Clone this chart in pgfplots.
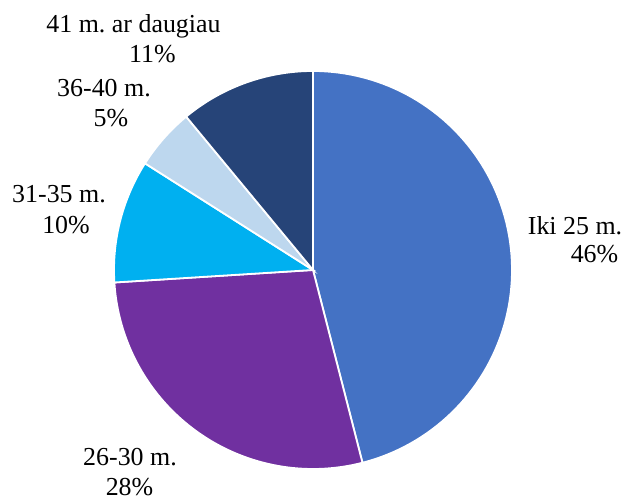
\documentclass[border=0pt]{standalone}
\usepackage{pgfplots}
\pgfplotsset{compat=1.18}
\usepgfplotslibrary{polar}
\usepackage{fontspec}
\setmainfont{Liberation Serif}
\frenchspacing
\definecolor{cA}{HTML}{4472C4}
\definecolor{cB}{HTML}{7030A0}
\definecolor{cC}{HTML}{00B0F0}
\definecolor{cD}{HTML}{BDD7EE}
\definecolor{cE}{HTML}{264478}
\begin{document}
\begin{tikzpicture}[x=1bp,y=1bp]
\useasboundingbox (0,0) rectangle (622,497);
\begin{polaraxis}[
  at={(313bp,227bp)}, anchor=center,
  scale only axis, width=398bp, height=398bp,
  hide axis, ymin=0, ymax=1, clip=false,
  samples=90]
% shares: 46, 28, 10, 5, 11 % -> clockwise from 90 deg
\addplot[fill=cA, draw=white, line width=1.8bp, domain=-75.6:90] {1} -- (axis cs:0,0) -- cycle;
\addplot[fill=cB, draw=white, line width=1.8bp, domain=-176.4:-75.6] {1} -- (axis cs:0,0) -- cycle;
\addplot[fill=cC, draw=white, line width=1.8bp, domain=-212.4:-176.4] {1} -- (axis cs:0,0) -- cycle;
\addplot[fill=cD, draw=white, line width=1.8bp, domain=-230.4:-212.4] {1} -- (axis cs:0,0) -- cycle;
\addplot[fill=cE, draw=white, line width=1.8bp, domain=-270:-230.4] {1} -- (axis cs:0,0) -- cycle;
\end{polaraxis}
\begin{scope}[every node/.style={anchor=base, inner sep=0pt, font=\fontsize{26}{29}\selectfont}]
\node at (133.5,464) {41 m. ar daugiau};
\node at (152.5,434) {11\%};
\node at (104,400) {36-40 m.};
\node at (111,370) {5\%};
\node at (59,294) {31-35 m.};
\node at (66,263) {10\%};
\node at (575,262) {Iki 25 m.};
\node at (594.5,234) {46\%};
\node at (130,31) {26-30 m.};
\node at (129.5,1) {28\%};
\end{scope}
\end{tikzpicture}
\end{document}
